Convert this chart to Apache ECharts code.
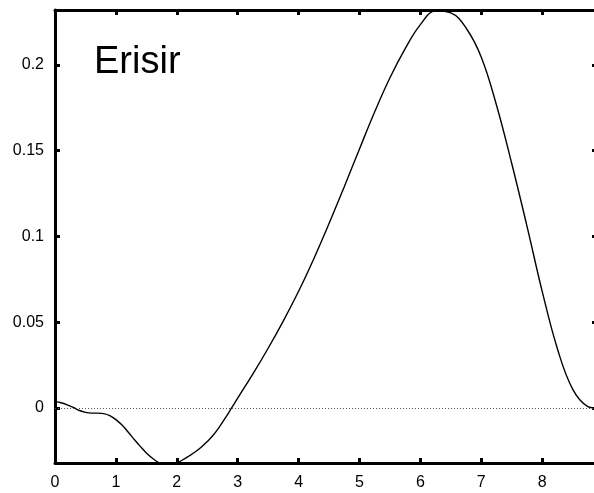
<!DOCTYPE html>
<html>
<head>
<meta charset="utf-8">
<script src="https://cdn.jsdelivr.net/npm/echarts@6/dist/echarts.min.js"></script>
<style>
html,body{margin:0;padding:0;background:#fff;}
#c{width:594px;height:493px;}
</style>
</head>
<body>
<div id="c"></div>
<script>
const xValues = [0, 0.1, 0.2, 0.3, 0.4, 0.5, 0.6, 0.7, 0.8, 0.9, 1.0, 1.1, 1.2, 1.3, 1.4, 1.5, 1.6, 1.7, 1.8, 1.9, 2.0, 2.1, 2.2, 2.3, 2.4, 2.5, 2.6, 2.7, 2.8, 2.9, 3.0, 3.25, 3.5, 3.75, 4.0, 4.25, 4.5, 4.75, 5.0, 5.25, 5.5, 5.75, 6.0, 6.25, 6.5, 6.75, 7.0, 7.25, 7.5, 7.75, 8.0, 8.25, 8.5, 8.75, 8.88];
const yValues = [0.0037, 0.003, 0.0018, 0.0003, -0.0015, -0.0026, -0.003, -0.003, -0.0033, -0.0045, -0.0068, -0.01, -0.014, -0.0183, -0.0224, -0.0262, -0.0293, -0.0318, -0.0333, -0.0335, -0.0322, -0.0302, -0.028, -0.0257, -0.0229, -0.0196, -0.0158, -0.011, -0.0057, 0, 0.0057, 0.0198, 0.0348, 0.0508, 0.068, 0.087, 0.1075, 0.129, 0.151, 0.1727, 0.1925, 0.2095, 0.2235, 0.2315, 0.2303, 0.2215, 0.2045, 0.1765, 0.1425, 0.106, 0.068, 0.0345, 0.011, 0.0008, 0];
const xTicks = [0, 1, 2, 3, 4, 5, 6, 7, 8];
const yTicks = [0, 0.05, 0.1, 0.15, 0.2];
const titleText = 'Erisir';

const data = xValues.map((x, i) => [x, yValues[i]]);
const font = 'Liberation Sans, Arial, sans-serif';
const chart = echarts.init(document.getElementById('c'), null, {renderer: 'canvas'});
const lineAx = {show: true, onZero: false, lineStyle: {color: '#000', width: 3}};
const tickAx = {show: true, inside: true, length: 5, lineStyle: {color: '#000', width: 3}};
chart.setOption({
  animation: false,
  backgroundColor: '#fff',
  grid: {left: 55, top: 10, width: 542, height: 453, containLabel: false, outerBoundsMode: 'none'},
  title: {text: titleText, left: 94, top: 44, padding: 0, textStyle: {fontFamily: font, fontSize: 38, fontWeight: 'normal', color: '#000'}},
  xAxis: [
    {type: 'value', min: 0, max: 8.9, position: 'bottom',
     axisLine: lineAx, splitLine: {show: false},
     axisTick: Object.assign({}, tickAx, {customValues: xTicks}),
     axisLabel: {customValues: xTicks, margin: 12, color: '#000', fontFamily: font, fontSize: 16}},
    {type: 'value', min: 0, max: 8.9, position: 'top',
     axisLine: lineAx, splitLine: {show: false},
     axisTick: Object.assign({}, tickAx, {customValues: xTicks}),
     axisLabel: {show: false}}
  ],
  yAxis: [
    {type: 'value', min: -0.0321, max: 0.232, position: 'left',
     axisLine: lineAx, splitLine: {show: false},
     axisTick: Object.assign({}, tickAx, {customValues: yTicks}),
     axisLabel: {customValues: yTicks, margin: 11, color: '#000', fontFamily: font, fontSize: 16,
       formatter: v => String(Math.round(v * 100) / 100)}},
    {type: 'value', min: -0.0321, max: 0.232, position: 'right',
     axisLine: lineAx, splitLine: {show: false},
     axisTick: Object.assign({}, tickAx, {customValues: yTicks}),
     axisLabel: {show: false}}
  ],
  series: [{
    type: 'line', data: data, xAxisIndex: 0, yAxisIndex: 0,
    smooth: 0.4, showSymbol: false, clip: true,
    lineStyle: {color: '#000', width: 1.4},
    markLine: {silent: true, symbol: 'none', label: {show: false},
      lineStyle: {color: '#555', type: [1, 2], width: 1},
      data: [{yAxis: 0}]}
  }]
});
</script>
</body>
</html>
